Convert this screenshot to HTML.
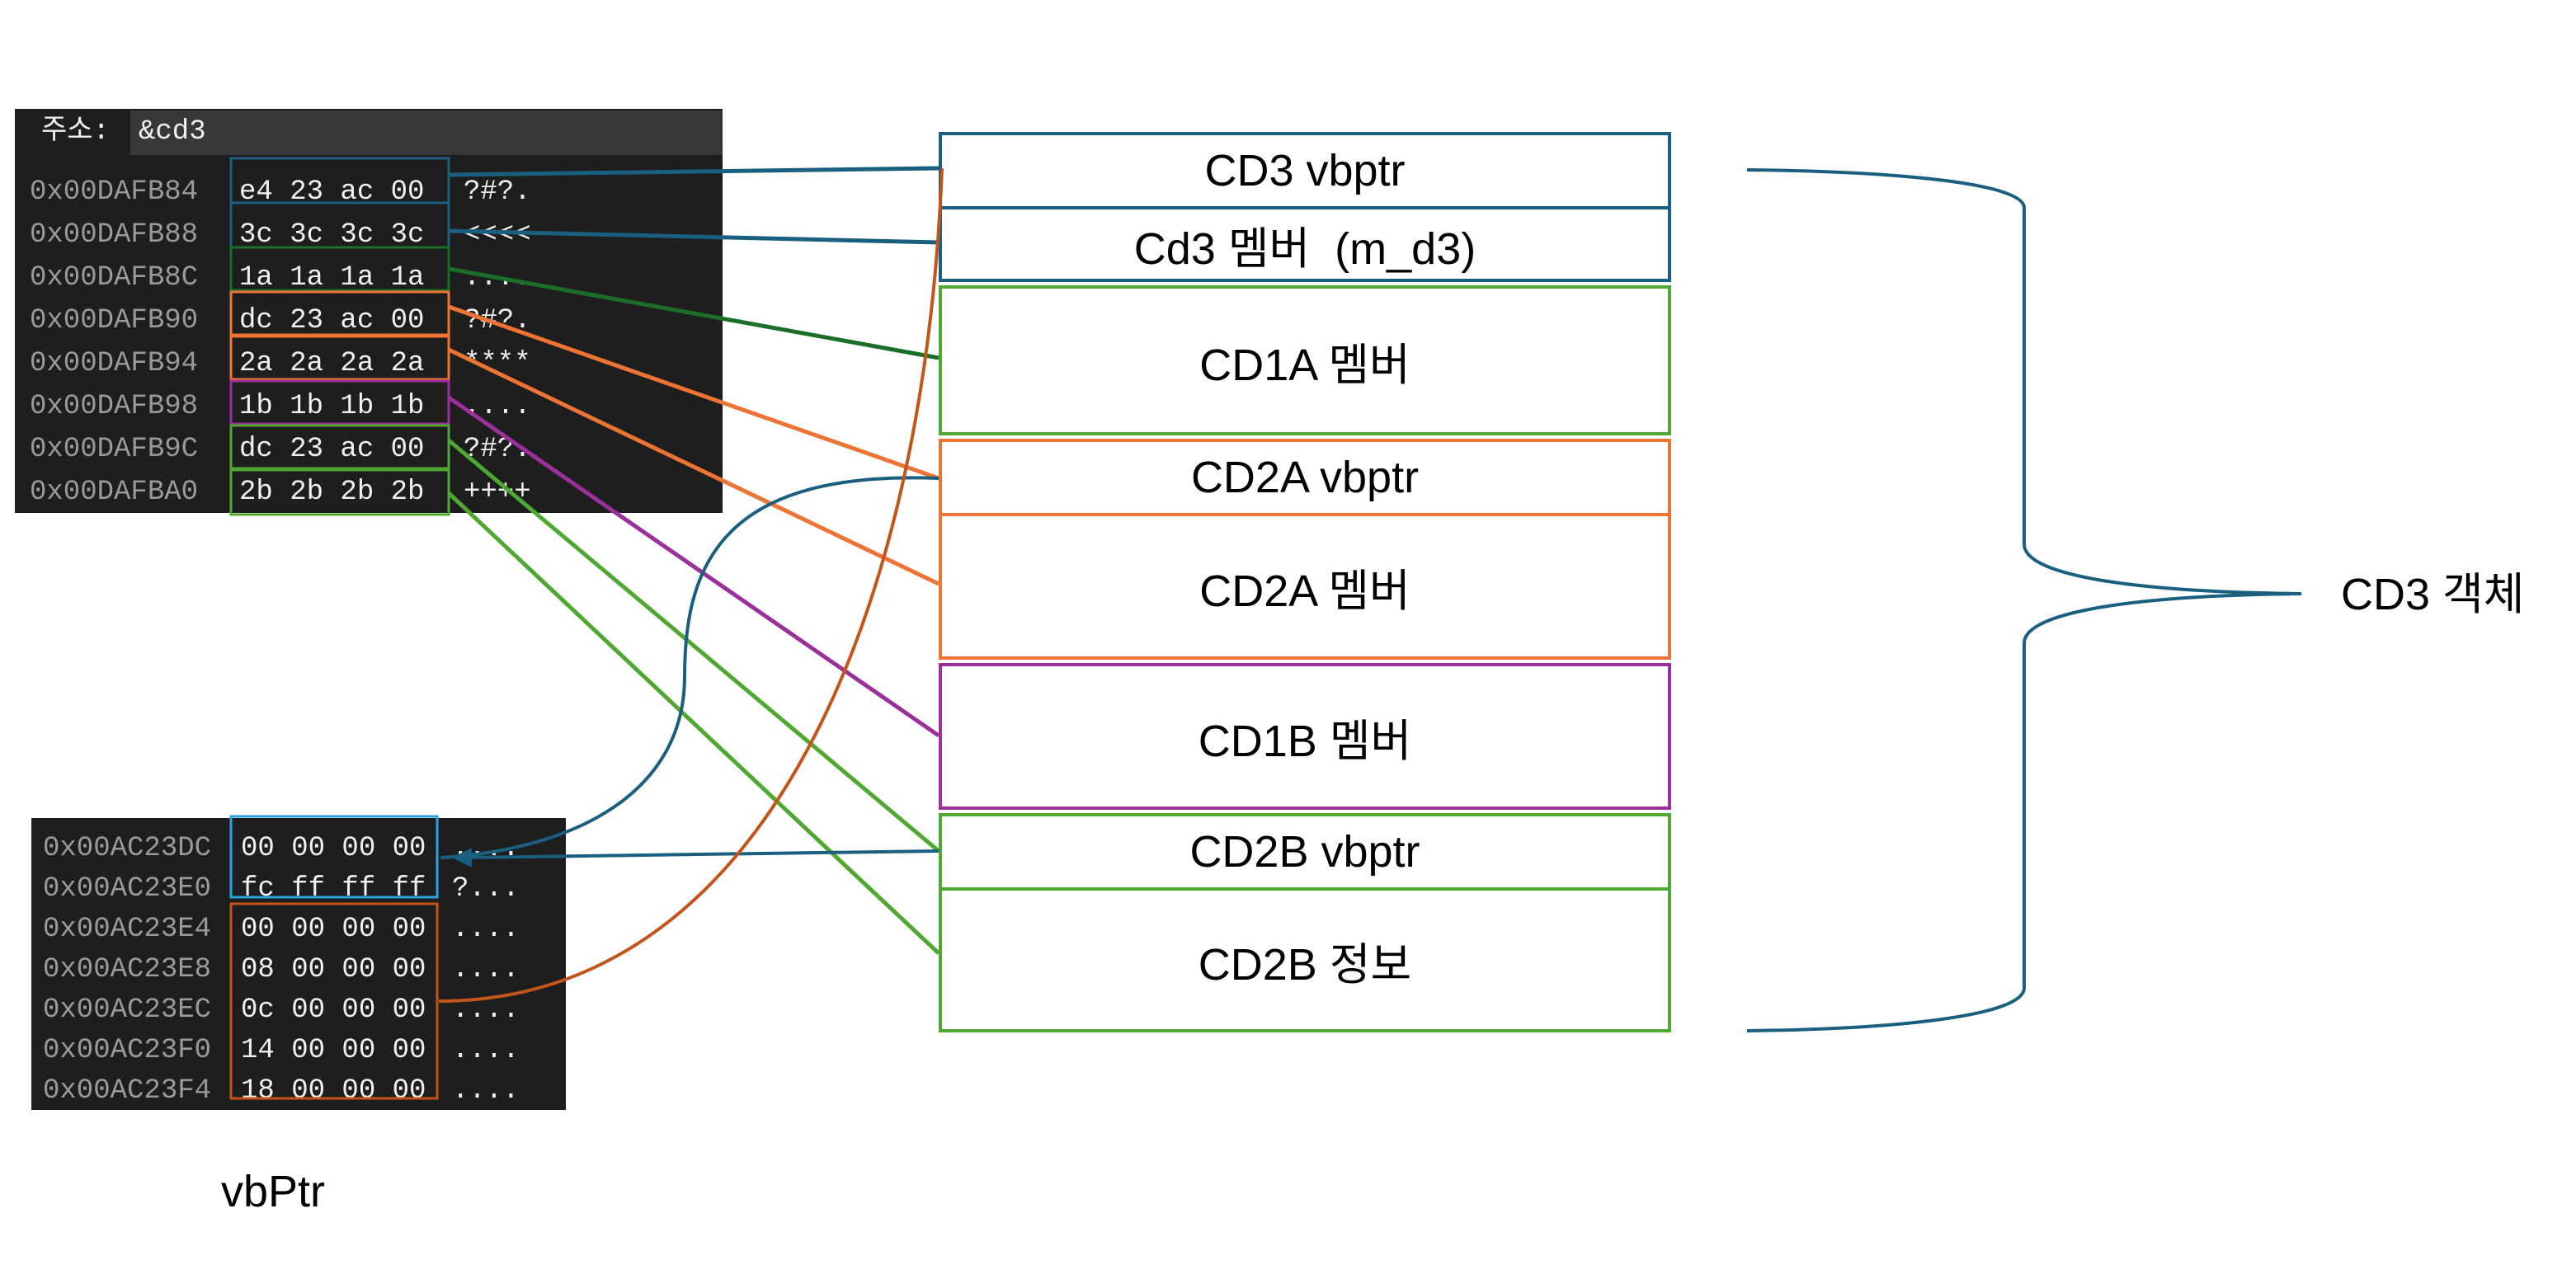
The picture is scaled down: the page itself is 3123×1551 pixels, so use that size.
<!DOCTYPE html>
<html><head><meta charset="utf-8"><style>
body{margin:0;width:3123px;height:1551px;background:#fff;position:relative;overflow:hidden;font-family:"Liberation Sans","Noto Sans CJK KR",sans-serif}
.p{position:absolute;background:#1e1e1e}
.m{position:absolute;font-family:"Liberation Mono","Noto Sans CJK KR",monospace;font-size:34px;white-space:pre;line-height:1}
.a{color:#9a9a9a}.h{color:#f0f0f0}
.b{position:absolute;box-sizing:border-box;border:4px solid;display:flex;align-items:center;justify-content:center;font-size:54px;color:#000;background:#fff}
.t{position:absolute;font-size:54px;color:#000;white-space:nowrap}
</style></head><body>
<div class="p" style="left:18px;top:132px;width:858px;height:490px"></div>
<div style="position:absolute;left:158px;top:134px;width:718px;height:54px;background:#383838"></div>
<div class="m h" style="left:50px;top:143px;font-size:34px">주소:</div>
<div class="m h" style="left:168px;top:143px;font-size:34px">&amp;cd3</div>
<div class="m a" style="left:36px;top:207px;line-height:52px">0x00DAFB84
0x00DAFB88
0x00DAFB8C
0x00DAFB90
0x00DAFB94
0x00DAFB98
0x00DAFB9C
0x00DAFBA0</div>
<div class="m h" style="left:290px;top:207px;line-height:52px">e4 23 ac 00
3c 3c 3c 3c
1a 1a 1a 1a
dc 23 ac 00
2a 2a 2a 2a
1b 1b 1b 1b
dc 23 ac 00
2b 2b 2b 2b</div>
<div class="m h" style="left:562px;top:207px;line-height:52px">?#?.
&lt;&lt;&lt;&lt;
....
?#?.
****
....
?#?.
++++</div>
<div class="p" style="left:38px;top:992px;width:648px;height:354px"></div>
<div class="m a" style="left:52px;top:1005px;line-height:49px">0x00AC23DC
0x00AC23E0
0x00AC23E4
0x00AC23E8
0x00AC23EC
0x00AC23F0
0x00AC23F4</div>
<div class="m h" style="left:292px;top:1005px;line-height:49px">00 00 00 00
fc ff ff ff
00 00 00 00
08 00 00 00
0c 00 00 00
14 00 00 00
18 00 00 00</div>
<div class="m h" style="left:548px;top:1005px;line-height:49px">....
?...
....
....
....
....
....</div>

<div class="b" style="left:1138px;top:160px;width:888px;height:94px;border-color:#1b5f80">CD3 vbptr</div>
<div class="b" style="left:1138px;top:250px;width:888px;height:92px;border-color:#1b5f80">Cd3 멤버&nbsp;&nbsp;(m_d3)</div>
<div class="b" style="left:1138px;top:346px;width:888px;height:182px;border-color:#4fa832">CD1A 멤버</div>
<div class="b" style="left:1138px;top:532px;width:888px;height:94px;border-color:#ed7434">CD2A vbptr</div>
<div class="b" style="left:1138px;top:622px;width:888px;height:178px;border-color:#ed7434">CD2A 멤버</div>
<div class="b" style="left:1138px;top:804px;width:888px;height:178px;border-color:#9b2f9b">CD1B 멤버</div>
<div class="b" style="left:1138px;top:986px;width:888px;height:94px;border-color:#4fa832">CD2B vbptr</div>
<div class="b" style="left:1138px;top:1076px;width:888px;height:176px;border-color:#4fa832">CD2B 정보</div>
<div class="t" style="left:2838px;top:676px">CD3 객체</div>
<div class="t" style="left:268px;top:1414px">vbPtr</div>

<svg style="position:absolute;left:0;top:0" width="3123" height="1551">
<defs><marker id="ar" markerWidth="10" markerHeight="8" refX="9" refY="4" orient="auto" markerUnits="userSpaceOnUse" viewBox="0 0 10 8"><path d="M0,0 L10,4 L0,8 z" fill="#1b5f80" transform="scale(1)"/></marker></defs>
<g fill="none" stroke-width="3">
<rect x="280" y="192" width="264" height="54" stroke="#1b5f80"/>
<rect x="280" y="246" width="264" height="54" stroke="#1b5f80"/>
<rect x="280" y="300" width="264" height="52" stroke="#1b6e28"/>
<rect x="280" y="354" width="264" height="52" stroke="#ed7434"/>
<rect x="280" y="408" width="264" height="52" stroke="#ed7434"/>
<rect x="280" y="462" width="264" height="52" stroke="#9b2f9b"/>
<rect x="280" y="516" width="264" height="52" stroke="#4fa832"/>
<rect x="280" y="570" width="264" height="54" stroke="#4fa832"/>
<rect x="280" y="990" width="250" height="98" stroke="#29a3dc"/>
<rect x="280" y="1096" width="250" height="236" stroke="#c4551a"/>
</g>
<g fill="none" stroke-width="5">
<path d="M544,212 L1138,204" stroke="#1b5f80"/>
<path d="M544,280 L1138,294" stroke="#1b5f80"/>
<path d="M544,326 L1138,434" stroke="#1b6e28"/>
<path d="M544,372 L1138,580" stroke="#ed7434"/>
<path d="M544,424 L1138,708" stroke="#ed7434"/>
<path d="M544,482 L1138,892" stroke="#9b2f9b"/>
<path d="M544,534 L1138,1032" stroke="#4fa832"/>
<path d="M544,598 L1138,1156" stroke="#4fa832"/>
<path d="M1138,580 C880,570 830,680 830,820 C830,960 700,1030 534,1040" stroke="#1b5f80" stroke-width="4"/>
<path d="M1138,1032 L560,1040" stroke="#1b5f80" stroke-width="4"/>
<path d="M548,1040 l24,-12 l0,24 z" fill="#1b5f80" stroke="none"/>
<path d="M1142,204 C1120,760 920,1214 532,1214" stroke="#c4551a" stroke-width="4"/>
<path d="M2118,206 C2300,208 2454,222 2454,252 L2454,660 C2454,700 2600,718 2790,720 C2600,722 2454,740 2454,780 L2454,1198 C2454,1232 2300,1248 2118,1250" stroke="#1b5f80" stroke-width="4"/>
</g>
</svg>
</body></html>
